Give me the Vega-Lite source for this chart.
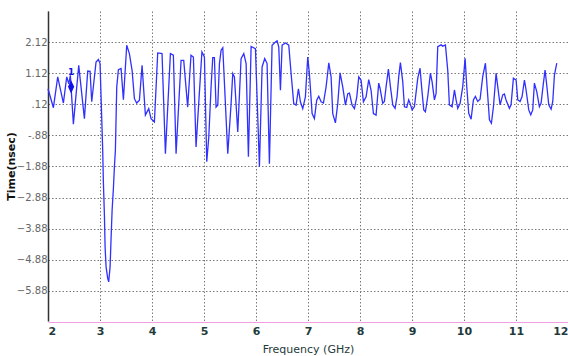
{
  "$schema": "https://vega.github.io/schema/vega-lite/v6.json",
  "width": 520,
  "height": 310,
  "autosize": {"type": "none"},
  "padding": {"left": 48, "right": 0, "top": 11, "bottom": 35},
  "background": "white",
  "config": {
    "view": {"stroke": null},
    "font": "DejaVu Sans"
  },
  "datasets": {
    "trace": [
      {"f":2.0,"t":0.62},{"f":2.104,"t":0.01},{"f":2.187,"t":1.0},{"f":2.296,"t":0.16},{"f":2.36,"t":1.0},{"f":2.40,"t":0.78},{"f":2.43,"t":1.05},{"f":2.488,"t":-0.52},{"f":2.591,"t":1.37},{"f":2.70,"t":-0.34},{"f":2.764,"t":1.19},{"f":2.809,"t":1.18},{"f":2.841,"t":0.20},{"f":2.924,"t":1.48},{"f":2.969,"t":1.56},{"f":3.001,"t":1.43},
      {"f":3.052,"t":-1.36},{"f":3.065,"t":-2.38},{"f":3.085,"t":-3.45},{"f":3.098,"t":-4.47},{"f":3.117,"t":-5.11},{"f":3.148,"t":-5.48},{"f":3.167,"t":-5.59},{"f":3.194,"t":-5.11},{"f":3.213,"t":-4.19},{"f":3.233,"t":-3.29},{"f":3.258,"t":-2.58},{"f":3.277,"t":-1.90},{"f":3.296,"t":-1.36},
      {"f":3.322,"t":0.68},{"f":3.354,"t":1.23},{"f":3.405,"t":1.27},{"f":3.45,"t":0.27},{"f":3.514,"t":2.02},{"f":3.565,"t":1.75},{"f":3.617,"t":1.21},{"f":3.662,"t":0.30},{"f":3.706,"t":0.16},{"f":3.758,"t":0.25},{"f":3.809,"t":1.37},{"f":3.873,"t":-0.23},{"f":3.937,"t":-0.02},{"f":3.982,"t":-0.34},{"f":4.046,"t":-0.45},{"f":4.11,"t":1.77},{"f":4.193,"t":1.75},{"f":4.258,"t":-1.47},{"f":4.354,"t":1.75},{"f":4.411,"t":1.70},{"f":4.463,"t":-1.47},{"f":4.559,"t":1.53},{"f":4.61,"t":1.53},{"f":4.686,"t":0.03},{"f":4.75,"t":1.70},{"f":4.796,"t":1.64},{"f":4.847,"t":-1.25},{"f":4.898,"t":0.14},{"f":4.96,"t":1.80},{"f":5.008,"t":1.64},{"f":5.053,"t":-1.73},{"f":5.092,"t":-0.93},{"f":5.136,"t":0.68},{"f":5.168,"t":1.62},{"f":5.20,"t":1.62},{"f":5.232,"t":0.03},{"f":5.265,"t":0.09},{"f":5.297,"t":1.43},{"f":5.329,"t":1.86},{"f":5.361,"t":1.94},{"f":5.457,"t":-1.47},{"f":5.521,"t":0.14},{"f":5.553,"t":1.11},{"f":5.585,"t":1.0},{"f":5.649,"t":-0.77},{"f":5.713,"t":1.59},{"f":5.765,"t":1.75},{"f":5.81,"t":1.43},{"f":5.854,"t":-1.57},{"f":5.906,"t":1.98},{"f":5.989,"t":1.91},{"f":6.066,"t":-1.89},{"f":6.117,"t":1.32},{"f":6.168,"t":1.59},{"f":6.213,"t":1.43},{"f":6.258,"t":-1.79},{"f":6.309,"t":2.02},{"f":6.374,"t":2.12},{"f":6.406,"t":2.16},{"f":6.438,"t":1.96},{"f":6.47,"t":0.57},{"f":6.502,"t":2.02},{"f":6.566,"t":2.09},{"f":6.63,"t":2.02},{"f":6.675,"t":1.11},{"f":6.726,"t":0.14},{"f":6.771,"t":0.09},{"f":6.816,"t":0.62},{"f":6.854,"t":0.20},{"f":6.899,"t":-0.02},{"f":6.95,"t":0.36},{"f":6.995,"t":1.64},{"f":7.027,"t":1.11},{"f":7.079,"t":-0.18},{"f":7.123,"t":-0.34},{"f":7.168,"t":0.25},{"f":7.207,"t":0.38},{"f":7.252,"t":0.20},{"f":7.297,"t":0.16},{"f":7.348,"t":0.68},{"f":7.4,"t":1.45},{"f":7.444,"t":1.0},{"f":7.476,"t":-0.18},{"f":7.527,"t":-0.48},{"f":7.572,"t":0.14},{"f":7.617,"t":1.13},{"f":7.668,"t":0.68},{"f":7.72,"t":0.09},{"f":7.765,"t":0.46},{"f":7.797,"t":0.48},{"f":7.848,"t":0.09},{"f":7.893,"t":-0.02},{"f":7.938,"t":0.36},{"f":7.976,"t":1.0},{"f":8.021,"t":0.89},{"f":8.066,"t":0.20},{"f":8.117,"t":0.36},{"f":8.168,"t":0.91},{"f":8.213,"t":0.57},{"f":8.258,"t":-0.18},{"f":8.309,"t":-0.23},{"f":8.36,"t":0.80},{"f":8.386,"t":0.63},{"f":8.437,"t":0.15},{"f":8.469,"t":0.21},{"f":8.502,"t":0.69},{"f":8.546,"t":1.25},{"f":8.585,"t":0.69},{"f":8.63,"t":0.10},{"f":8.675,"t":-0.01},{"f":8.713,"t":0.37},{"f":8.745,"t":1.01},{"f":8.777,"t":1.46},{"f":8.822,"t":0.85},{"f":8.854,"t":0.04},{"f":8.899,"t":0.02},{"f":8.937,"t":0.26},{"f":8.963,"t":0.15},{"f":9.002,"t":-0.06},{"f":9.046,"t":0.04},{"f":9.111,"t":0.96},{"f":9.155,"t":1.28},{"f":9.187,"t":0.63},{"f":9.226,"t":-0.06},{"f":9.258,"t":-0.12},{"f":9.303,"t":0.37},{"f":9.354,"t":1.12},{"f":9.386,"t":0.85},{"f":9.431,"t":0.26},{"f":9.463,"t":0.47},{"f":9.495,"t":1.97},{"f":9.559,"t":2.03},{"f":9.591,"t":1.99},{"f":9.643,"t":2.03},{"f":9.687,"t":1.22},{"f":9.719,"t":0.10},{"f":9.771,"t":0.04},{"f":9.816,"t":0.58},{"f":9.848,"t":0.26},{"f":9.88,"t":-0.01},{"f":9.925,"t":0.15},{"f":9.976,"t":0.69},{"f":10.021,"t":1.60},{"f":10.053,"t":0.69},{"f":10.091,"t":-0.17},{"f":10.136,"t":-0.36},{"f":10.181,"t":0.26},{"f":10.219,"t":0.37},{"f":10.264,"t":0.21},{"f":10.309,"t":0.28},{"f":10.36,"t":1.01},{"f":10.412,"t":1.44},{"f":10.444,"t":0.69},{"f":10.489,"t":-0.38},{"f":10.527,"t":-0.49},{"f":10.566,"t":0.04},{"f":10.617,"t":1.12},{"f":10.649,"t":0.69},{"f":10.694,"t":0.10},{"f":10.745,"t":0.42},{"f":10.777,"t":0.45},{"f":10.809,"t":0.26},{"f":10.873,"t":-0.01},{"f":10.905,"t":0.10},{"f":10.95,"t":0.96},{"f":11.002,"t":0.90},{"f":11.034,"t":0.26},{"f":11.079,"t":0.21},{"f":11.117,"t":0.37},{"f":11.162,"t":0.90},{"f":11.194,"t":0.58},{"f":11.245,"t":-0.06},{"f":11.284,"t":-0.22},{"f":11.322,"t":-0.06},{"f":11.354,"t":0.80},{"f":11.399,"t":0.53},{"f":11.45,"t":0.04},{"f":11.482,"t":0.15},{"f":11.527,"t":0.80},{"f":11.559,"t":1.22},{"f":11.591,"t":0.74},{"f":11.63,"t":0.10},{"f":11.675,"t":-0.04},{"f":11.707,"t":0.21},{"f":11.739,"t":1.06},{"f":11.784,"t":1.44}
    ],
    "marker": [{"f": 2.444, "t": 0.68, "label": "1"}]
  },
  "layer": [
    {
      "data": {"name": "trace"},
      "mark": {"type": "line", "color": "#3030ff", "strokeWidth": 1.3, "interpolate": "linear"},
      "encoding": {
        "x": {
          "field": "f", "type": "quantitative",
          "scale": {"domain": [2, 12], "nice": false, "zero": false},
          "axis": {
            "title": "Frequency (GHz)",
            "values": [2,3,4,5,6,7,8,9,10,11,12],
            "tickCount": 20,
            "format": "d",
            "labelFlush": true,
            "labelOverlap": false,
            "labelColor": "#1f3b3b",
            "labelFontSize": 11,
            "labelFontWeight": "bold",
            "labelPadding": 3,
            "ticks": false,
            "domainColor": "#f0a0e0",
            "domainWidth": 1,
            "offset": 1,
            "grid": true,
            "gridColor": "#7a7a7a",
            "gridDash": [1.5, 2],
            "gridWidth": 1,
            "titleColor": "#1f3b3b",
            "titleFontSize": 11,
            "titleFontWeight": "normal",
            "titlePadding": 7
          }
        },
        "y": {
          "field": "t", "type": "quantitative",
          "scale": {"domain": [-6.85, 3.12], "nice": false, "zero": false},
          "axis": {
            "title": "Time(nsec)",
            "values": [2.12, 1.12, 0.12, -0.88, -1.88, -2.88, -3.88, -4.88, -5.88],
            "tickCount": 20,
            "labelExpr": "abs(datum.value-0.12)<0.001 ? '.12' : abs(datum.value+0.88)<0.001 ? '-.88' : format(datum.value,'.2f')",
            "labelOverlap": false,
            "labelColor": "#666666",
            "labelFontSize": 10,
            "labelPadding": 1,
            "ticks": false,
            "domainColor": "#333333",
            "domainWidth": 1.5,
            "grid": true,
            "gridColor": "#7a7a7a",
            "gridDash": [1.5, 2],
            "gridWidth": 1,
            "titleColor": "#111111",
            "titleFontSize": 11,
            "titleFontWeight": "bold",
            "titlePadding": 0
          }
        }
      }
    },
    {
      "mark": {"type": "rule", "color": "#333333", "strokeWidth": 1.5},
      "encoding": {"y": {"datum": -6.85}}
    },
    {
      "mark": {"type": "rule", "color": "#9b5b93", "strokeWidth": 2},
      "encoding": {"y": {"datum": 3.12}}
    },
    {
      "data": {"name": "marker"},
      "mark": {"type": "point", "shape": "M0,-1.7L0.8,0L0,1.7L-0.8,0Z", "filled": true, "color": "#1010ee", "size": 60, "opacity": 1},
      "encoding": {
        "x": {"field": "f", "type": "quantitative"},
        "y": {"field": "t", "type": "quantitative"}
      }
    },
    {
      "data": {"name": "marker"},
      "mark": {"type": "text", "color": "#1010ee", "fontSize": 9, "fontWeight": "bold", "dy": -15},
      "encoding": {
        "x": {"field": "f", "type": "quantitative"},
        "y": {"field": "t", "type": "quantitative"},
        "text": {"field": "label"}
      }
    }
  ]
}
